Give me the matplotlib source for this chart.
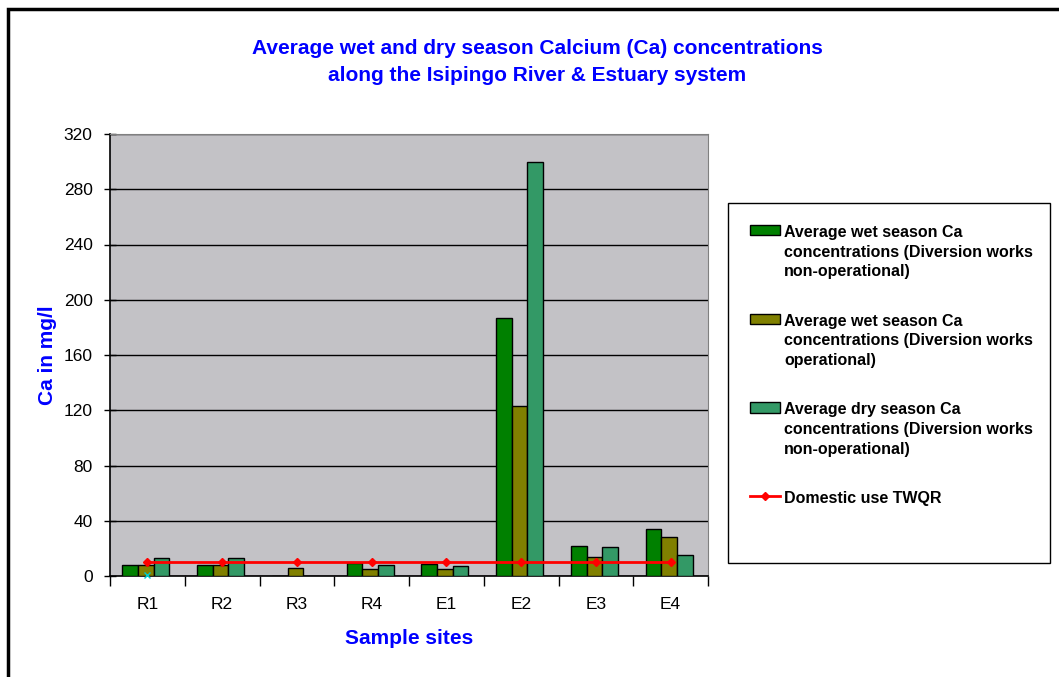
import matplotlib.pyplot as plt
import matplotlib.patches as mpatches
import numpy as np

plt.rcParams['font.family'] = ['Liberation Sans', 'DejaVu Sans']

# Data
sites = ['R1', 'R2', 'R3', 'R4', 'E1', 'E2', 'E3', 'E4']
wet_nonop = [8.2, 8.2, 0, 9.6, 8.7, 187, 22, 34]
wet_op = [8.0, 8.0, 5.6, 4.8, 5.3, 123, 14, 28]
dry_nonop = [12.8, 13, 0, 8, 7, 300, 21, 15.4]
twqr = [10, 10, 10, 10, 10, 10, 10, 10]

labels = [
    'Average wet season Ca\nconcentrations (Diversion works\nnon-operational)',
    'Average wet season Ca\nconcentrations (Diversion works\noperational)',
    'Average dry season Ca\nconcentrations (Diversion works\nnon-operational)',
    'Domestic use TWQR',
]
colors = ['#008000', '#808000', '#339966']

fig = plt.figure(figsize=(10.59, 6.77), dpi=100)
ax = fig.add_axes([110 / 1059, 1 - 576 / 677, 598 / 1059, 442 / 677])
ax.set_facecolor('#c3c2c6')

x = np.arange(len(sites))
w = 0.21
handles = []
for i, (vals, c) in enumerate(zip([wet_nonop, wet_op, dry_nonop], colors)):
    b = ax.bar(x + (i - 1) * w - 0.02, vals, w, color=c, edgecolor='black',
               linewidth=1.0, zorder=3, label=labels[i])
    handles.append(b)
ln, = ax.plot(x, twqr, color='red', linewidth=2, marker='D', markersize=4,
              zorder=4, label=labels[3])
handles.append(ln)
# small stray marker sitting on the baseline at R1
ax.plot([x[0]], [0.5], marker='x', color='#00cccc', markersize=5,
        linestyle='none', zorder=5, clip_on=False)

ax.set_xlim(-0.5, len(sites) - 0.5)
ax.set_ylim(0, 320)
ax.set_yticks(np.arange(0, 321, 40))
ax.yaxis.grid(True, color='black', linewidth=1, zorder=1)
ax.set_axisbelow(True)

ax.set_xticks(x)
ax.set_xticklabels(sites)
ax.set_xticks(np.arange(-0.5, len(sites)), minor=True)
ax.tick_params(axis='x', which='major', length=0, pad=15, labelsize=12.5)
ax.tick_params(axis='x', which='minor', length=7, direction='out', width=1)
ax.tick_params(axis='y', length=9, direction='inout', width=1, pad=8,
               labelsize=12.5)

for s in ['left', 'bottom']:
    ax.spines[s].set_color('black')
    ax.spines[s].set_linewidth(1.2)
for s in ['top', 'right']:
    ax.spines[s].set_color('#808080')
    ax.spines[s].set_linewidth(0.8)

ax.set_xlabel('Sample sites', color='#0000ff', fontweight='bold',
              fontsize=15, labelpad=12)
ax.set_ylabel('Ca in mg/l', color='#0000ff', fontweight='bold',
              fontsize=15, labelpad=5)

fig.text(537 / 1059, 1 - 62 / 677,
         'Average wet and dry season Calcium (Ca) concentrations\n'
         'along the Isipingo River & Estuary system',
         ha='center', va='center', color='#0000ff', fontweight='bold',
         fontsize=15, linespacing=1.5)

# legend frame drawn separately so its size matches the original box
fig.patches.append(mpatches.Rectangle((728 / 1059, 1 - 563 / 677),
                                      (1050 - 728) / 1059, 360 / 677,
                                      transform=fig.transFigure,
                                      facecolor='white', edgecolor='black',
                                      linewidth=1.0))

leg = fig.legend(handles, labels, loc='upper left',
                 bbox_to_anchor=(750 / 1059, 1 - 225 / 677),
                 frameon=False,
                 prop={'weight': 'bold', 'size': 11.5},
                 labelspacing=2.15, handlelength=1.85, handleheight=0.6,
                 handletextpad=0.3, borderpad=0, borderaxespad=0)
for t in leg.get_texts():
    t.set_linespacing(1.39)
# put each legend key next to the first line of its label
for col in leg._legend_handle_box.get_children():
    for row in col.get_children():
        row.align = 'top'

# outer chart border
fig.patches.append(mpatches.Rectangle((8 / 1059, -0.1), 1.2, 1 - 9 / 677 + 0.1,
                                      transform=fig.transFigure, fill=False,
                                      edgecolor='black', linewidth=2.5))

fig.savefig('out.png', dpi=100)
